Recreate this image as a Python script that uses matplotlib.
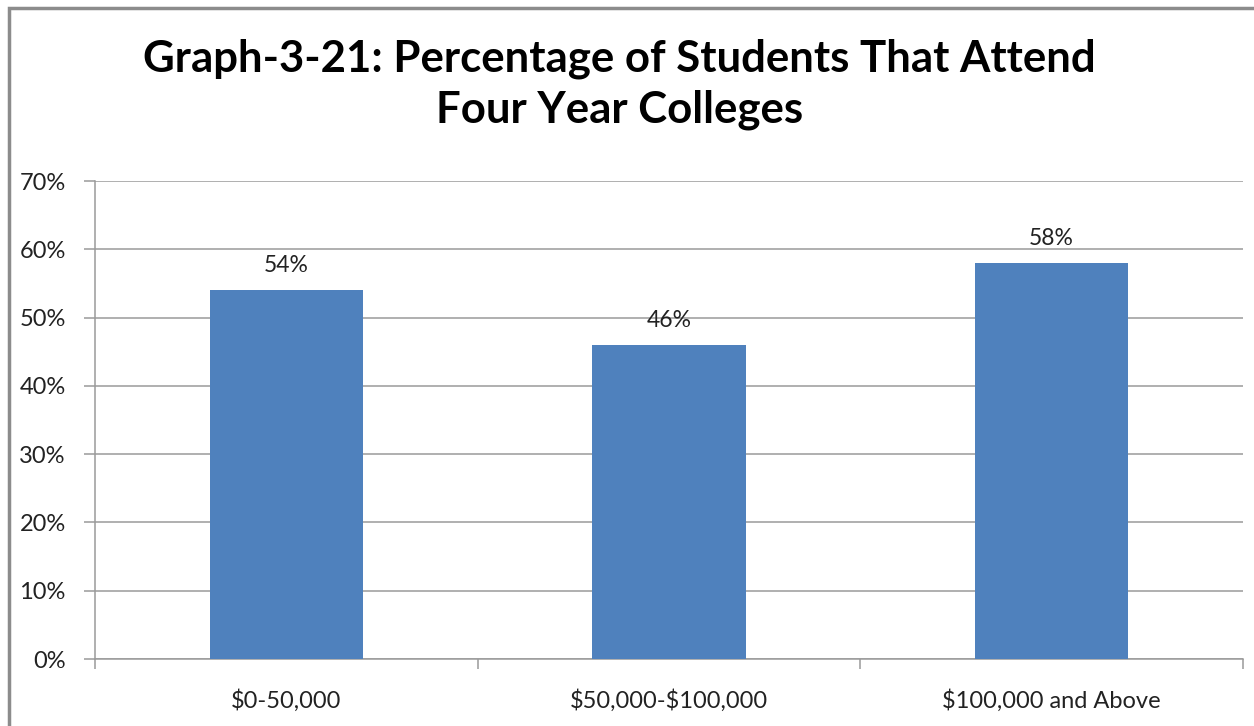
import matplotlib.pyplot as plt
from matplotlib.patches import Rectangle
from matplotlib.ticker import FixedLocator, PercentFormatter

categories = ["$0-50,000", "$50,000-$100,000", "$100,000 and Above"]
percent_attend = [54, 46, 58]
y_ticks = [0, 10, 20, 30, 40, 50, 60, 70]

bar_color = "#4F81BD"
grid_color = "#9A9A9A"
plt.rcParams["font.family"] = ["Lato", "DejaVu Sans"]
plt.rcParams["text.parse_math"] = False  # dollar signs in labels are literal

fig = plt.figure(figsize=(12.54, 7.26), dpi=100)
ax = fig.add_axes([95 / 1254, 1 - 659 / 726, 1148 / 1254, 478 / 726])

x = list(range(len(categories)))
ax.bar(x, percent_attend, width=0.4, color=bar_color, zorder=3)

for xi, v in zip(x, percent_attend):
    ax.annotate(f"{v}%", (xi, v), xytext=(0, 10), textcoords="offset points",
                ha="center", va="bottom", fontsize=16.5, color="#222222")

ax.set_xlim(-0.5, len(categories) - 0.5)
ax.set_ylim(0, 70)
ax.set_yticks(y_ticks)
ax.yaxis.set_major_formatter(PercentFormatter(decimals=0))
ax.grid(axis="y", color=grid_color, linewidth=1.1, zorder=0)

# labels sit at category centres, tick marks at the boundaries
ax.set_xticks(x)
ax.set_xticklabels(categories)
ax.xaxis.set_minor_locator(FixedLocator([i - 0.5 for i in range(len(categories) + 1)]))
ax.tick_params(axis="x", which="major", length=0, pad=22, labelsize=17, labelcolor="#222222")
ax.tick_params(axis="x", which="minor", length=7, color=grid_color, width=1.1)
ax.tick_params(axis="y", length=8, color=grid_color, width=1.1, pad=13,
               labelsize=17, labelcolor="#222222")

for side in ["top", "right"]:
    ax.spines[side].set_visible(False)
for side in ["left", "bottom"]:
    ax.spines[side].set_color(grid_color)
    ax.spines[side].set_linewidth(1.1)

fig.text(0.494, 0.884, "Graph-3-21: Percentage of Students That Attend\nFour Year Colleges",
         ha="center", va="center", fontsize=31.5, fontweight="bold", linespacing=1.3)

# chart frame runs off the right and bottom edges
fig.patches.append(Rectangle((8.5 / 1254, -0.05), 1.1, 1 - 8 / 726 + 0.05,
                             transform=fig.transFigure, fill=False,
                             edgecolor="#8C8C8C", linewidth=2.5))

fig.savefig("out.png", dpi=100)
